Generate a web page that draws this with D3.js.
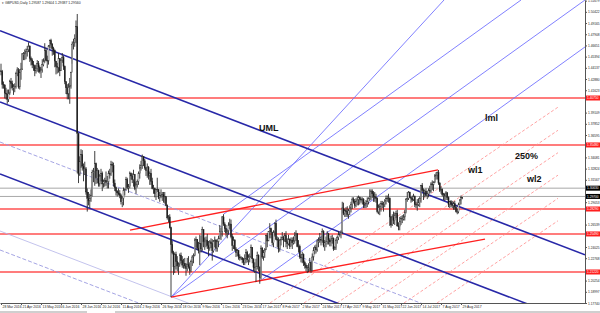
<!DOCTYPE html>
<html>
<head>
<meta charset="utf-8">
<script src="https://cdn.jsdelivr.net/npm/d3@7/dist/d3.min.js"></script>
<style>
  body { margin: 0; background: #fff; }
  svg { display: block; font-family: "Liberation Sans", Arial, sans-serif; }
</style>
</head>
<body>
<svg id="chart" width="600" height="313"></svg>
<script>

// Daily bars from 31 Mar 2016, [high, low, close]; open is the previous close
const firstOpen = 1.438;
const candles = [
  [1.446,1.433,1.437],[1.439,1.418,1.423],
  [1.426,1.418,1.422],[1.423,1.407,1.413],[1.419,1.406,1.412],[1.417,1.401,1.406],[1.417,1.403,1.413],
  [1.428,1.411,1.426],[1.430,1.418,1.424],[1.427,1.416,1.419],[1.423,1.411,1.420],[1.424,1.414,1.420],
  [1.437,1.418,1.435],[1.442,1.432,1.439],[1.441,1.418,1.420],[1.440,1.417,1.436],[1.447,1.428,1.440],
  [1.458,1.439,1.457],[1.459,1.450,1.457],[1.462,1.450,1.458],[1.463,1.451,1.460],[1.466,1.454,1.462],
  [1.470,1.459,1.466],[1.466,1.448,1.452],[1.454,1.444,1.450],[1.452,1.441,1.445],[1.449,1.438,1.444],
  [1.443,1.432,1.438],[1.445,1.435,1.441],[1.450,1.437,1.446],[1.449,1.436,1.442],[1.444,1.435,1.437],
  [1.442,1.430,1.439],[1.451,1.436,1.445],[1.452,1.443,1.449],[1.469,1.447,1.461],[1.464,1.449,1.450],
  [1.455,1.441,1.449],[1.467,1.445,1.466],[1.473,1.463,1.472],[1.474,1.463,1.468],[1.469,1.455,1.463],
  [1.465,1.456,1.461],[1.462,1.442,1.449],[1.449,1.434,1.443],[1.447,1.435,1.442],[1.458,1.436,1.452],
  [1.442,1.432,1.438],[1.452,1.438,1.450],[1.458,1.447,1.453],[1.455,1.439,1.443],[1.444,1.423,1.426],
  [1.426,1.412,1.419],[1.423,1.406,1.412],[1.424,1.406,1.420],[1.430,1.401,1.421],[1.437,1.418,1.436],
  [1.471,1.446,1.468],[1.474,1.462,1.470],[1.479,1.465,1.474],[1.4945,1.469,1.4877],[1.5018,1.3229,1.368],
  [1.360,1.312,1.322],[1.342,1.320,1.336],[1.350,1.329,1.344],[1.349,1.326,1.331],[1.334,1.314,1.328],
  [1.336,1.321,1.328],[1.330,1.299,1.302],[1.306,1.280,1.295],[1.302,1.287,1.292],[1.300,1.284,1.295],
  [1.305,1.291,1.298],[1.327,1.297,1.324],[1.329,1.313,1.325],[1.348,1.309,1.334],[1.335,1.311,1.318],
  [1.329,1.312,1.326],[1.327,1.308,1.311],[1.322,1.308,1.320],[1.328,1.314,1.323],[1.325,1.303,1.311],
  [1.316,1.307,1.314],[1.318,1.308,1.315],[1.325,1.309,1.313],[1.320,1.306,1.313],[1.326,1.306,1.323],
  [1.328,1.317,1.322],[1.337,1.320,1.333],[1.336,1.324,1.332],[1.335,1.308,1.312],[1.316,1.303,1.307],
  [1.308,1.298,1.303],[1.304,1.297,1.301],[1.306,1.298,1.300],[1.304,1.295,1.298],[1.300,1.288,1.291],
  [1.297,1.285,1.295],[1.307,1.287,1.304],[1.306,1.298,1.305],[1.319,1.304,1.316],[1.318,1.305,1.307],
  [1.311,1.301,1.308],[1.325,1.306,1.323],[1.324,1.316,1.320],[1.323,1.312,1.316],[1.327,1.308,1.322],
  [1.314,1.304,1.306],[1.313,1.300,1.310],[1.316,1.307,1.314],[1.325,1.310,1.323],[1.333,1.317,1.329],
  [1.337,1.326,1.332],[1.344,1.328,1.342],[1.342,1.331,1.337],[1.339,1.327,1.329],[1.330,1.320,1.326],
  [1.334,1.318,1.330],[1.331,1.316,1.320],[1.325,1.310,1.323],[1.328,1.310,1.314],[1.318,1.305,1.306],
  [1.310,1.300,1.306],[1.307,1.296,1.300],[1.305,1.293,1.305],[1.318,1.302,1.305],[1.305,1.294,1.296],
  [1.302,1.291,1.298],[1.305,1.295,1.298],[1.302,1.292,1.299],[1.302,1.290,1.297],[1.302,1.289,1.297],
  [1.296,1.286,1.287],[1.288,1.271,1.273],[1.276,1.268,1.274],[1.277,1.261,1.262],[1.263,1.184,1.243],
  [1.247,1.232,1.234],[1.236,1.209,1.218],[1.234,1.211,1.232],[1.235,1.215,1.224],[1.230,1.213,1.219],
  [1.223,1.209,1.221],[1.233,1.218,1.231],[1.234,1.222,1.225],[1.230,1.217,1.220],[1.227,1.216,1.222],
  [1.228,1.216,1.219],[1.222,1.208,1.216],[1.228,1.213,1.221],[1.230,1.216,1.218],[1.223,1.209,1.214],
  [1.226,1.212,1.224],[1.231,1.219,1.229],[1.233,1.222,1.231],[1.250,1.230,1.248],[1.252,1.240,1.249],
  [1.249,1.237,1.239],[1.246,1.233,1.236],[1.254,1.220,1.244],[1.253,1.234,1.238],[1.263,1.236,1.260],
  [1.260,1.240,1.246],[1.251,1.237,1.248],[1.252,1.240,1.248],[1.255,1.238,1.242],[1.247,1.230,1.239],
  [1.248,1.236,1.246],[1.250,1.239,1.244],[1.249,1.225,1.236],[1.248,1.234,1.247],[1.252,1.240,1.248],
  [1.249,1.235,1.239],[1.249,1.235,1.246],[1.253,1.240,1.250],[1.265,1.249,1.258],[1.262,1.248,1.258],
  [1.275,1.252,1.274],[1.277,1.264,1.266],[1.268,1.257,1.261],[1.265,1.252,1.256],[1.260,1.250,1.258],
  [1.268,1.254,1.265],[1.272,1.260,1.266],[1.271,1.250,1.252],[1.255,1.236,1.242],[1.252,1.238,1.248],
  [1.249,1.236,1.238],[1.240,1.229,1.234],[1.238,1.230,1.236],[1.237,1.226,1.229],[1.232,1.225,1.228],
  [1.230,1.226,1.228],[1.229,1.222,1.226],[1.228,1.220,1.223],[1.232,1.220,1.227],[1.238,1.222,1.234],
  [1.236,1.223,1.226],[1.232,1.220,1.229],[1.233,1.223,1.229],[1.243,1.228,1.240],[1.240,1.222,1.227],
  [1.227,1.213,1.217],[1.223,1.211,1.217],[1.227,1.201,1.218],[1.235,1.215,1.231],[1.232,1.213,1.218],
  [1.212,1.199,1.206],[1.242,1.204,1.239],[1.240,1.227,1.229],[1.237,1.225,1.234],[1.239,1.228,1.237],
  [1.254,1.237,1.253],[1.256,1.240,1.247],[1.258,1.247,1.258],[1.267,1.250,1.261],[1.262,1.250,1.257],
  [1.255,1.242,1.245],[1.259,1.240,1.257],[1.268,1.252,1.267],[1.271,1.248,1.249],[1.252,1.240,1.248],
  [1.251,1.234,1.238],[1.249,1.235,1.248],[1.252,1.242,1.249],[1.257,1.248,1.251],[1.253,1.240,1.248],
  [1.256,1.246,1.253],[1.258,1.240,1.246],[1.250,1.238,1.244],[1.254,1.242,1.249],[1.250,1.238,1.241],
  [1.251,1.241,1.248],[1.251,1.238,1.245],[1.252,1.243,1.247],[1.257,1.244,1.253],[1.259,1.247,1.255],
  [1.256,1.240,1.241],[1.248,1.234,1.241],[1.243,1.227,1.229],[1.232,1.223,1.228],[1.235,1.222,1.232],
  [1.233,1.219,1.223],[1.225,1.216,1.220],[1.222,1.213,1.217],[1.220,1.211,1.217],[1.222,1.212,1.217],
  [1.228,1.213,1.223],[1.224,1.211,1.214],[1.233,1.213,1.229],[1.240,1.225,1.236],[1.242,1.232,1.240],
  [1.243,1.233,1.237],[1.249,1.235,1.247],[1.251,1.240,1.247],[1.256,1.245,1.249],[1.252,1.242,1.248],
  [1.261,1.245,1.258],[1.259,1.240,1.242],[1.248,1.236,1.245],[1.252,1.240,1.246],[1.258,1.243,1.255],
  [1.256,1.243,1.248],[1.250,1.241,1.246],[1.253,1.241,1.248],[1.254,1.244,1.250],[1.251,1.236,1.238],
  [1.241,1.237,1.240],[1.250,1.237,1.248],[1.253,1.244,1.251],[1.258,1.248,1.254],[1.256,1.252,1.254],
  [1.259,1.250,1.257],[1.291,1.255,1.284],[1.290,1.276,1.278],[1.283,1.274,1.281],[1.285,1.274,1.280],
  [1.286,1.274,1.277],[1.283,1.272,1.281],[1.287,1.276,1.284],[1.291,1.279,1.288],[1.296,1.283,1.294],
  [1.296,1.289,1.291],[1.294,1.284,1.287],[1.295,1.285,1.291],[1.297,1.287,1.293],[1.298,1.287,1.296],
  [1.297,1.288,1.294],[1.296,1.290,1.293],[1.296,1.288,1.294],[1.295,1.284,1.288],[1.291,1.284,1.288],
  [1.293,1.284,1.289],[1.296,1.285,1.291],[1.296,1.288,1.295],[1.305,1.292,1.297],[1.305,1.293,1.303],
  [1.305,1.295,1.300],[1.303,1.291,1.297],[1.302,1.291,1.296],[1.300,1.290,1.295],[1.296,1.278,1.280],
  [1.288,1.277,1.285],[1.289,1.276,1.286],[1.292,1.280,1.289],[1.292,1.284,1.288],[1.291,1.280,1.288],
  [1.294,1.285,1.292],[1.298,1.288,1.295],[1.298,1.291,1.295],[1.300,1.290,1.295],[1.296,1.264,1.274],
  [1.275,1.262,1.265],[1.277,1.264,1.274],[1.280,1.266,1.270],[1.279,1.265,1.276],[1.281,1.273,1.278],
  [1.282,1.263,1.264],[1.268,1.259,1.263],[1.274,1.259,1.269],[1.275,1.265,1.272],[1.276,1.267,1.272],
  [1.277,1.270,1.274],[1.282,1.270,1.279],[1.295,1.278,1.294],[1.302,1.291,1.295],[1.303,1.293,1.302],
  [1.302,1.295,1.296],[1.297,1.290,1.295],[1.298,1.291,1.293],[1.300,1.292,1.297],[1.298,1.285,1.288],
  [1.291,1.284,1.288],[1.294,1.281,1.288],[1.295,1.286,1.290],[1.297,1.285,1.295],[1.310,1.290,1.309],
  [1.312,1.302,1.304],[1.306,1.293,1.303],[1.305,1.296,1.303],[1.306,1.297,1.298],[1.303,1.294,1.300],
  [1.306,1.296,1.304],[1.309,1.300,1.303],[1.313,1.301,1.311],[1.315,1.304,1.310],[1.314,1.303,1.313],
  [1.322,1.312,1.320],[1.324,1.316,1.321],[1.325,1.316,1.324],[1.3267,1.310,1.312],[1.313,1.302,1.304],
  [1.308,1.300,1.305],[1.306,1.297,1.299],[1.301,1.293,1.299],[1.301,1.292,1.298],[1.303,1.293,1.301],
  [1.302,1.293,1.296],[1.297,1.285,1.288],[1.292,1.284,1.291],[1.293,1.285,1.288],[1.292,1.284,1.287],
  [1.291,1.282,1.289],[1.292,1.282,1.285],[1.287,1.279,1.280],[1.283,1.277,1.280],[1.290,1.278,1.288],
  [1.294,1.287,1.293],[1.298,1.288,1.2959],[1.2960,1.2939,1.2956]
];

const headerQuote = ["1.29587", "1.29604", "1.29387", "1.29560"];

const dateLabels = ["28 Mar 2016","21 Apr 2016","13 May 2016","6 Jun 2016","28 Jun 2016","20 Jul 2016",
  "11 Aug 2016","2 Sep 2016","26 Sep 2016","18 Oct 2016","9 Nov 2016","1 Dec 2016","23 Dec 2016",
  "17 Jan 2017","8 Feb 2017","2 Mar 2017","24 Mar 2017","17 Apr 2017","9 May 2017","31 May 2017",
  "22 Jun 2017","14 Jul 2017","7 Aug 2017","29 Aug 2017"];
const barsPerLabel = 16;

const priceTicks = [1.17740,1.18997,1.20254,1.21511,1.22768,1.24025,1.25282,1.26539,1.27796,1.29053,
  1.30310,1.31567,1.32824,1.34081,1.35338,1.36595,1.37852,1.39109,1.40366,1.41623,1.42880,1.44137,
  1.45394,1.46651,1.47908,1.49165,1.50422,1.51679];

const redLevels = [1.4075, 1.3548, 1.2829, 1.2549, 1.2122];
const greyLevels = [1.3063, 1.2970];

// trend lines as [bar, price] pairs
const navyChannel = [
  [[-0.8, 1.4830], [467.2, 1.2315]],
  [[-0.8, 1.4030], [467.2, 1.1516]],
  [[-0.8, 1.3222], [467.2, 1.0708]]
];
const lavenderDashed = [
  [[-0.8, 1.3581], [467.2, 1.1067]],
  [[-0.8, 1.2369], [467.2, 0.9855]]
];
const lavenderThin = [
  [[-0.8, 1.2582], [467.2, 1.0068]]
];
const redTrend = [
  [[136, 1.1840], [387.2, 1.2492]],
  [[103.2, 1.2593], [349.6, 1.3267]]
];
const bluePitchfork = [
  [[136, 1.1840], [467.2, 1.5175]],
  [[136, 1.1840], [354.4, 1.5175]],
  [[178, 1.2770], [416, 1.5175]],
  [[207, 1.2019], [467.2, 1.4648]]
];
// pink warning lines (wl1, 250%, wl2 ...), bottom edge to their right end
const pinkDashed = [
  [[215.2, 1.1774], [445.6, 1.3972]],
  [[242.4, 1.1774], [445.6, 1.3713]],
  [[268.8, 1.1774], [445.6, 1.3461]],
  [[295.2, 1.1774], [445.6, 1.3209]],
  [[322.4, 1.1774], [445.6, 1.2949]],
  [[348.8, 1.1774], [445.6, 1.2697]]
];

const labels = [
  ["UML", 206.4, 1.3705],
  ["lml", 387.2, 1.3817],
  ["wl1", 373.6, 1.3233],
  ["250%", 411.2, 1.3390],
  ["wl2", 420.8, 1.3132]
];

const W = 600, H = 313, plotW = 585, plotH = 303;
const svg = d3.select("#chart");

const x = d3.scaleLinear().domain([-0.8, 467.2]).range([0, plotW]);
const y = d3.scaleLinear().domain([1.1774, 1.5175]).range([plotH, 0]);

svg.append("defs").append("clipPath").attr("id", "plot")
  .append("rect").attr("width", plotW).attr("height", plotH);

const plot = svg.append("g").attr("clip-path", "url(#plot)");
const line = d3.line().x(d => x(d[0])).y(d => y(d[1]));

// horizontal levels
plot.selectAll(".red-level").data(redLevels).enter().append("line")
  .attr("x1", 0).attr("x2", plotW)
  .attr("y1", d => y(d)).attr("y2", d => y(d))
  .attr("stroke", "#ff5050").attr("stroke-width", 1.6);
plot.selectAll(".grey-level").data(greyLevels).enter().append("line")
  .attr("x1", 0).attr("x2", plotW)
  .attr("y1", d => y(d)).attr("y2", d => y(d))
  .attr("stroke", "#a8a8a8").attr("stroke-width", 1);

function drawLines(data, stroke, width, dash) {
  plot.append("g").selectAll("path").data(data).enter().append("path")
    .attr("d", line)
    .attr("fill", "none")
    .attr("stroke", stroke)
    .attr("stroke-width", width)
    .attr("stroke-dasharray", dash || null);
}

drawLines(pinkDashed, "#ff8c8c", 0.8, "3,2");
drawLines(lavenderThin, "#b4b4e8", 0.8);
drawLines(lavenderDashed, "#9a9ae0", 0.9, "4,2");
drawLines(bluePitchfork, "#7373ff", 0.9);
drawLines(redTrend, "#ff2020", 1.3);
drawLines(navyChannel, "#2828a8", 1.6);

// candles
const bars = candles.map((c, i) => ({
  i, high: c[0], low: c[1], close: c[2],
  open: i === 0 ? firstOpen : candles[i - 1][2]
}));
const cg = plot.append("g");
cg.selectAll("line").data(bars).enter().append("line")
  .attr("x1", d => x(d.i)).attr("x2", d => x(d.i))
  .attr("y1", d => y(d.high)).attr("y2", d => y(d.low))
  .attr("stroke", "#2a2a2a").attr("stroke-width", 0.9);
cg.selectAll("rect").data(bars).enter().append("rect")
  .attr("x", d => x(d.i) - 0.55).attr("width", 1.1)
  .attr("y", d => y(Math.max(d.open, d.close)))
  .attr("height", d => Math.max(0.6, Math.abs(y(d.open) - y(d.close))))
  .attr("fill", d => d.close < d.open ? "#111" : "#f4f4f4")
  .attr("stroke", "#2a2a2a").attr("stroke-width", 0.4);

// text labels
plot.selectAll(".lbl").data(labels).enter().append("text")
  .attr("x", d => x(d[1])).attr("y", d => y(d[2]))
  .attr("font-size", 9).attr("font-weight", "bold").attr("fill", "#111")
  .text(d => d[0]);

// axes
const xAxis = d3.axisBottom(x)
  .tickValues(dateLabels.map((_, k) => k * barsPerLabel))
  .tickFormat((d, k) => dateLabels[k])
  .tickSize(2).tickSizeOuter(0);
const gx = svg.append("g").attr("transform", `translate(0,${plotH})`).call(xAxis);
gx.select(".domain").attr("stroke", "#555");
gx.selectAll(".tick line").attr("stroke", "#555");
gx.selectAll(".tick text").attr("text-anchor", "start").attr("dx", 1).attr("y", 3)
  .attr("font-size", 3.4).attr("fill", "#222").attr("font-family", "Liberation Sans, Arial, sans-serif");

const tagPrices = redLevels.concat(greyLevels);
const yAxis = d3.axisRight(y)
  .tickValues(priceTicks.filter(p => tagPrices.every(t => Math.abs(y(t) - y(p)) > 5)))
  .tickFormat(d3.format(".5f"))
  .tickSize(2).tickSizeOuter(0);
const gy = svg.append("g").attr("transform", `translate(${plotW},0)`).call(yAxis);
gy.select(".domain").attr("stroke", "#555");
gy.selectAll(".tick line").attr("stroke", "#555");
gy.selectAll(".tick text").attr("x", 3).attr("font-size", 3.2).attr("fill", "#222")
  .attr("font-family", "Liberation Sans, Arial, sans-serif");

// price tags on the right axis
function tags(levels, fill) {
  const g = svg.append("g");
  g.selectAll("rect").data(levels).enter().append("rect")
    .attr("x", plotW + 1).attr("y", d => y(d) - 2.5)
    .attr("width", 14).attr("height", 5).attr("fill", fill);
  g.selectAll("text").data(levels).enter().append("text")
    .attr("x", plotW + 2).attr("y", d => y(d) + 1.2)
    .attr("font-size", 3.2).attr("fill", "#fff")
    .text(d => d3.format(".5f")(d));
}
tags(redLevels, "#ff1e1e");
tags(greyLevels, "#000");

// header
svg.append("text").attr("x", 2).attr("y", 4)
  .attr("font-size", 3.4).attr("fill", "#222")
  .text("\u25BE GBPUSD,Daily  " + headerQuote.join(" "));

// bottom tab strip
svg.append("rect").attr("x", 0).attr("y", 311).attr("width", W).attr("height", 2).attr("fill", "#cfcfcf");
svg.append("rect").attr("x", 87).attr("y", 311).attr("width", 28).attr("height", 2).attr("fill", "#fff");
</script>
</body>
</html>
